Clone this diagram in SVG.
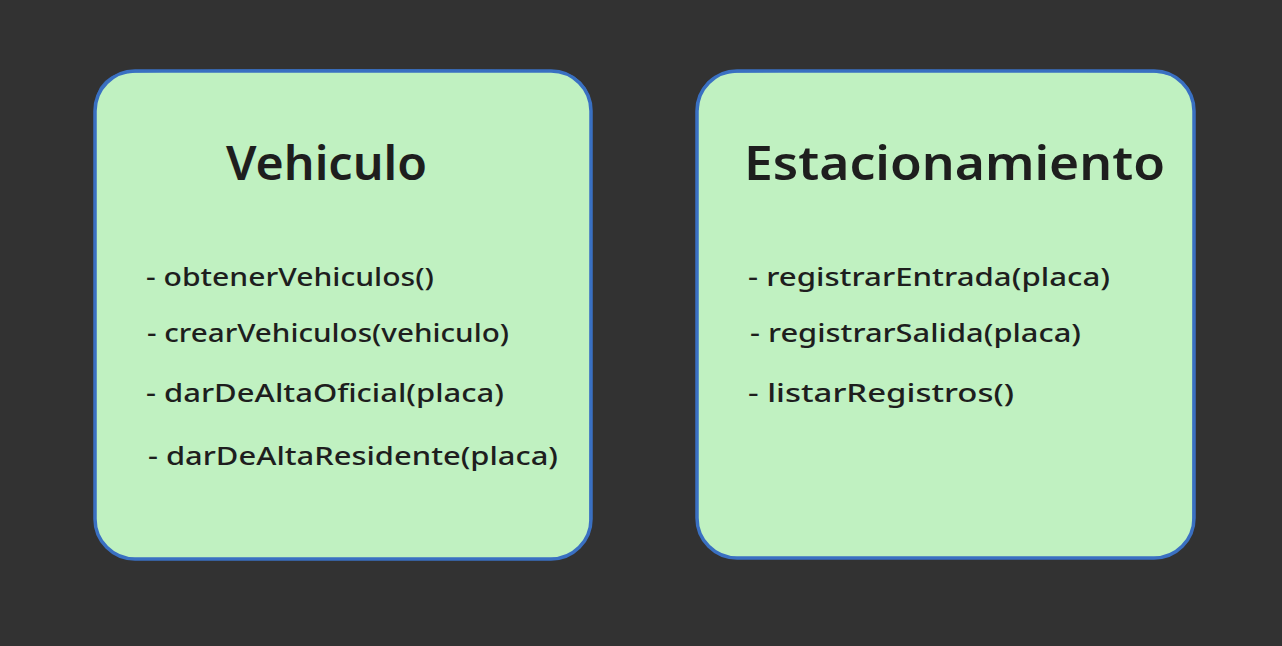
<svg xmlns="http://www.w3.org/2000/svg" width="1282" height="646" viewBox="0 0 1282 646">
<style>
.box{fill:#c0f1c1;stroke:#3a70c2;stroke-width:3.5}
.sk{fill:none;stroke:#3a70c2;stroke-width:1.5;opacity:0.8}
.title{font-family:"Noto Sans","DejaVu Sans",sans-serif;font-size:46px;font-weight:600;fill:#1e1e1e}
.item{font-family:"Noto Sans","DejaVu Sans",sans-serif;font-size:26px;font-weight:500;fill:#1e1e1e}
</style>
<rect width="1282" height="646" fill="#323232"/>
<g id="vehiculo">
<rect class="box" x="95" y="71" width="496" height="488" rx="40" ry="40"/>
<path class="sk" d="M133 72 Q300 68 550 71 Q590 73 591 112 L590 520 M96 108 Q96 74 132 72"/>
<text class="title" x="226" y="180" textLength="201" lengthAdjust="spacingAndGlyphs">Vehiculo</text>
<text class="item" x="146" y="286" textLength="288" lengthAdjust="spacingAndGlyphs">- obtenerVehiculos()</text>
<text class="item" x="147" y="342" textLength="362" lengthAdjust="spacingAndGlyphs">- crearVehiculos(vehiculo)</text>
<text class="item" x="146" y="402" textLength="358" lengthAdjust="spacingAndGlyphs">- darDeAltaOficial(placa)</text>
<text class="item" x="148" y="465" textLength="410" lengthAdjust="spacingAndGlyphs">- darDeAltaResidente(placa)</text>
</g>
<g id="estacionamiento">
<rect class="box" x="697" y="71" width="497" height="487" rx="40" ry="40"/>
<path class="sk" d="M735 72 Q900 69 1155 72 Q1193 74 1194 112 L1193 520 M698 110 Q699 74 734 72"/>
<text class="title" x="744" y="180" textLength="421" lengthAdjust="spacingAndGlyphs">Estacionamiento</text>
<text class="item" x="748" y="286" textLength="362" lengthAdjust="spacingAndGlyphs">- registrarEntrada(placa)</text>
<text class="item" x="750" y="342" textLength="331" lengthAdjust="spacingAndGlyphs">- registrarSalida(placa)</text>
<text class="item" x="748" y="402" textLength="266" lengthAdjust="spacingAndGlyphs">- listarRegistros()</text>
</g>
<g id="connectors"/>
</svg>
